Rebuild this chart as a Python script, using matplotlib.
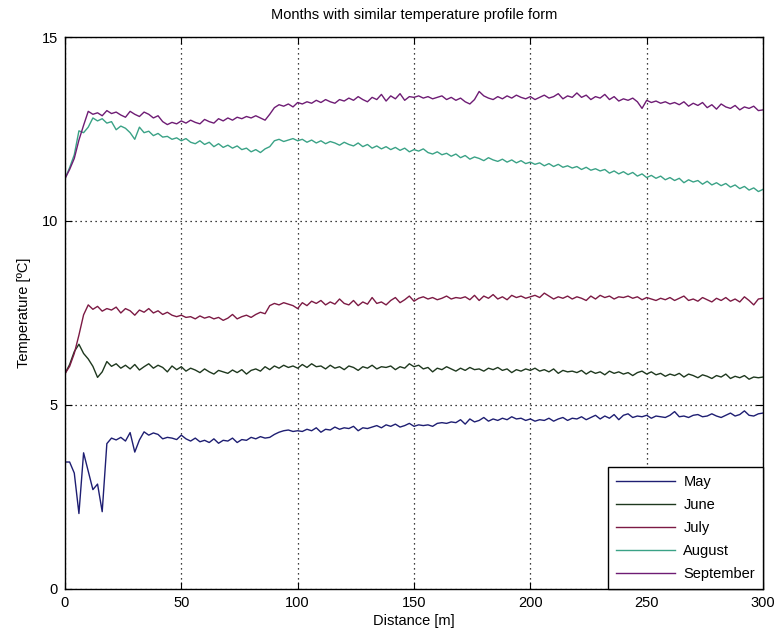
import numpy as np
import matplotlib
matplotlib.use("Agg")
import matplotlib.pyplot as plt

plt.rcParams["font.family"] = ["Liberation Sans", "DejaVu Sans"]

# Distance along the profile, sampled every 2 m
distance = np.arange(0, 301, 2)

may = [
    3.45, 3.45, 3.15, 2.05, 3.70, 3.20, 2.70, 2.85, 2.10, 3.95,
    4.10, 4.05, 4.12, 4.02, 4.25, 3.72, 4.05, 4.27, 4.18, 4.24,
    4.20, 4.08, 4.12, 4.10, 4.06, 4.18, 4.08, 4.02, 4.10, 4.00,
    4.04, 3.98, 4.08, 3.96, 4.04, 4.02, 4.10, 3.98, 4.06, 4.04,
    4.12, 4.08, 4.14, 4.10, 4.12, 4.20, 4.26, 4.30, 4.32, 4.28,
    4.30, 4.28, 4.34, 4.30, 4.38, 4.26, 4.34, 4.32, 4.40, 4.34,
    4.38, 4.36, 4.42, 4.30, 4.38, 4.36, 4.40, 4.44, 4.38, 4.46,
    4.42, 4.48, 4.40, 4.44, 4.50, 4.42, 4.46, 4.44, 4.46, 4.42,
    4.50, 4.52, 4.50, 4.54, 4.52, 4.60, 4.48, 4.62, 4.54, 4.58,
    4.66, 4.56, 4.62, 4.58, 4.64, 4.60, 4.68, 4.62, 4.64, 4.58,
    4.62, 4.56, 4.60, 4.58, 4.64, 4.56, 4.62, 4.66, 4.58, 4.64,
    4.62, 4.68, 4.60, 4.66, 4.72, 4.62, 4.70, 4.64, 4.74, 4.60,
    4.72, 4.76, 4.66, 4.70, 4.68, 4.72, 4.64, 4.70, 4.68, 4.66,
    4.72, 4.82, 4.68, 4.70, 4.66, 4.72, 4.74, 4.68, 4.70, 4.76,
    4.70, 4.66, 4.72, 4.78, 4.70, 4.74, 4.84, 4.72, 4.70, 4.76,
    4.78,
]

june = [
    5.85, 6.10, 6.45, 6.65, 6.40, 6.25, 6.05, 5.75, 5.90, 6.18,
    6.05, 6.12, 6.00, 6.08, 5.98, 6.10, 5.95, 6.04, 6.12, 6.00,
    6.08, 6.02, 5.90, 6.06, 5.96, 6.04, 5.92, 6.00, 5.95, 5.88,
    5.98, 5.90, 5.84, 5.94, 5.90, 5.86, 5.95, 5.88, 5.96, 5.84,
    5.94, 5.98, 5.92, 6.04, 5.96, 6.06, 6.00, 6.08, 6.02, 6.06,
    6.00, 6.10, 6.02, 6.12, 6.04, 6.06, 5.98, 6.08, 6.00, 6.04,
    5.96, 6.06, 6.02, 5.94, 6.04, 6.00, 6.08, 5.98, 6.04, 6.02,
    6.06, 5.96, 6.04, 6.00, 6.12, 6.04, 6.08, 5.98, 6.02, 5.90,
    6.00, 5.96, 6.04, 5.98, 5.92, 6.00, 5.94, 6.02, 5.96, 5.98,
    5.92, 6.00, 5.96, 6.02, 5.94, 5.98, 5.88, 5.96, 5.92, 5.98,
    5.94, 6.00, 5.92, 5.96, 5.90, 5.98, 5.86, 5.94, 5.90, 5.92,
    5.88, 5.94, 5.84, 5.92, 5.86, 5.90, 5.82, 5.92, 5.86, 5.90,
    5.84, 5.88, 5.80, 5.88, 5.92, 5.84, 5.90, 5.82, 5.86, 5.78,
    5.84, 5.80, 5.86, 5.76, 5.84, 5.80, 5.74, 5.82, 5.78, 5.72,
    5.80, 5.76, 5.84, 5.72, 5.78, 5.74, 5.80, 5.70, 5.76, 5.74,
    5.76,
]

july = [
    5.85, 6.05, 6.40, 6.90, 7.45, 7.72, 7.60, 7.68, 7.55, 7.62,
    7.58, 7.66, 7.50, 7.62, 7.56, 7.44, 7.58, 7.52, 7.62, 7.50,
    7.56, 7.46, 7.52, 7.44, 7.40, 7.44, 7.38, 7.40, 7.34, 7.42,
    7.36, 7.40, 7.34, 7.38, 7.30, 7.36, 7.46, 7.34, 7.40, 7.44,
    7.38, 7.46, 7.52, 7.48, 7.70, 7.76, 7.72, 7.78, 7.74, 7.70,
    7.62, 7.78, 7.70, 7.82, 7.76, 7.84, 7.72, 7.80, 7.74, 7.88,
    7.76, 7.72, 7.84, 7.70, 7.80, 7.74, 7.92, 7.76, 7.80, 7.72,
    7.84, 7.92, 7.78, 7.86, 7.96, 7.82, 7.90, 7.94, 7.88, 7.92,
    7.86, 7.90, 7.96, 7.88, 7.92, 7.90, 7.94, 7.86, 7.98, 7.84,
    7.96, 7.90, 8.00, 7.88, 7.94, 7.86, 7.98, 7.92, 7.96, 7.90,
    7.94, 7.98, 7.92, 8.04, 7.96, 7.88, 7.94, 7.90, 7.96, 7.88,
    7.94, 7.90, 7.84, 7.96, 7.88, 7.98, 7.92, 7.96, 7.88, 7.94,
    7.92, 7.96, 7.90, 7.94, 7.86, 7.92, 7.88, 7.84, 7.90, 7.86,
    7.92, 7.84, 7.90, 7.96, 7.84, 7.88, 7.82, 7.92, 7.86, 7.80,
    7.90, 7.84, 7.92, 7.82, 7.88, 7.80, 7.94, 7.84, 7.72, 7.88,
    7.90,
]

august = [
    11.15, 11.45, 11.80, 12.45, 12.40, 12.55, 12.80, 12.72, 12.78, 12.66,
    12.70, 12.48, 12.58, 12.52, 12.40, 12.22, 12.55, 12.40, 12.44, 12.32,
    12.38, 12.28, 12.30, 12.22, 12.26, 12.18, 12.24, 12.14, 12.10, 12.18,
    12.08, 12.14, 12.02, 12.10, 12.00, 12.06, 11.98, 12.04, 11.94, 11.98,
    11.88, 11.94, 11.86, 11.96, 12.02, 12.18, 12.22, 12.16, 12.20, 12.24,
    12.18, 12.22, 12.14, 12.20, 12.12, 12.18, 12.10, 12.16, 12.12, 12.06,
    12.14, 12.08, 12.04, 12.12, 12.02, 12.08, 11.98, 12.04, 11.96, 12.02,
    11.94, 12.00, 11.92, 11.98, 11.88, 11.94, 11.90, 11.96, 11.86, 11.82,
    11.88, 11.80, 11.84, 11.76, 11.82, 11.72, 11.78, 11.68, 11.74, 11.70,
    11.64, 11.72, 11.66, 11.62, 11.68, 11.60, 11.66, 11.58, 11.64, 11.56,
    11.60, 11.54, 11.58, 11.50, 11.56, 11.48, 11.54, 11.46, 11.50, 11.44,
    11.48, 11.40, 11.46, 11.38, 11.42, 11.36, 11.40, 11.30, 11.36, 11.28,
    11.34, 11.26, 11.32, 11.22, 11.28, 11.18, 11.24, 11.16, 11.22, 11.12,
    11.18, 11.10, 11.16, 11.04, 11.12, 11.06, 11.10, 11.00, 11.08, 10.98,
    11.04, 10.96, 11.02, 10.92, 10.98, 10.88, 10.94, 10.84, 10.90, 10.80,
    10.86,
]

september = [
    11.15, 11.40, 11.70, 12.20, 12.60, 12.98, 12.90, 12.94, 12.86, 13.00,
    12.92, 12.96, 12.88, 12.82, 12.98, 12.90, 12.84, 12.96, 12.90, 12.80,
    12.86, 12.70, 12.62, 12.68, 12.64, 12.72, 12.66, 12.74, 12.68, 12.64,
    12.76, 12.70, 12.66, 12.78, 12.72, 12.80, 12.74, 12.82, 12.78, 12.84,
    12.80, 12.86, 12.80, 12.74, 12.90, 13.08, 13.16, 13.12, 13.18, 13.10,
    13.22, 13.18, 13.24, 13.20, 13.28, 13.22, 13.30, 13.24, 13.20, 13.30,
    13.26, 13.34, 13.28, 13.38, 13.30, 13.24, 13.36, 13.30, 13.44, 13.26,
    13.40, 13.32, 13.46, 13.28, 13.38, 13.36, 13.40, 13.34, 13.38, 13.32,
    13.36, 13.40, 13.30, 13.36, 13.28, 13.34, 13.24, 13.18, 13.30, 13.52,
    13.40, 13.34, 13.30, 13.38, 13.32, 13.40, 13.34, 13.42, 13.36, 13.32,
    13.38, 13.30, 13.36, 13.42, 13.34, 13.38, 13.46, 13.32, 13.40, 13.36,
    13.48, 13.36, 13.42, 13.30, 13.38, 13.34, 13.44, 13.30, 13.38, 13.26,
    13.32, 13.28, 13.34, 13.24, 13.06, 13.28, 13.22, 13.26, 13.20, 13.24,
    13.18, 13.22, 13.16, 13.24, 13.12, 13.20, 13.14, 13.22, 13.08, 13.16,
    13.04, 13.18, 13.10, 13.06, 13.14, 13.02, 13.10, 13.06, 13.12, 13.00,
    13.02,
]

series = [
    ("May", may, "#1e1e72"),
    ("June", june, "#1e381e"),
    ("July", july, "#7c1a44"),
    ("August", august, "#3aa286"),
    ("September", september, "#6e1c74"),
]

fig = plt.figure(figsize=(7.79, 6.37), dpi=100)
ax = fig.add_axes([0.0834, 0.0754, 0.8961, 0.8665])

for name, values, color in series:
    ax.plot(distance, values, color=color, lw=1.0, label=name)

ax.set_xlim(0, 300)
ax.set_ylim(0, 15)
ax.set_xticks(np.arange(0, 301, 50))
ax.set_yticks([0, 5, 10, 15])
ax.grid(True, color="black", linestyle=(0, (1, 3)), linewidth=0.9)
ax.tick_params(direction="in", top=True, right=True, length=5, labelsize=10.5,
               colors="black", pad=5)
for sp in ax.spines.values():
    sp.set_linewidth(1.0)
    sp.set_color("black")

ax.set_title("Months with similar temperature profile form", fontsize=10.5, pad=13)
ax.set_xlabel("Distance [m]", fontsize=10.5, labelpad=3)
ax.set_ylabel("Temperature [ºC]", fontsize=10.5, labelpad=8)

leg = ax.legend(loc="lower right", borderaxespad=0, fancybox=False,
                edgecolor="black", framealpha=1, fontsize=10.5,
                handlelength=4.0, handletextpad=0.6, labelspacing=0.62,
                borderpad=0.55)
leg.get_frame().set_linewidth(1.0)

fig.savefig("out.png", dpi=100)
